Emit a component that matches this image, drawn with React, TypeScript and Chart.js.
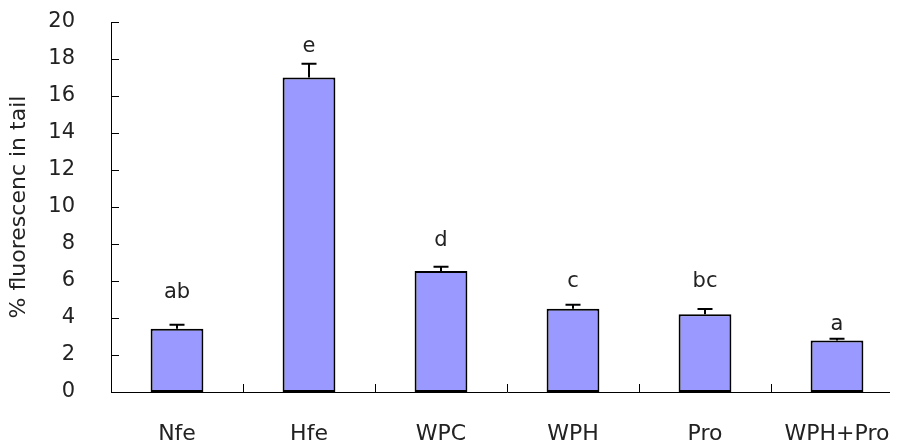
import React, { useEffect, useRef } from "react";
import { Chart, registerables } from "chart.js";

Chart.register(...registerables);

const categories = ["Nfe", "Hfe", "WPC", "WPH", "Pro", "WPH+Pro"];
const means = [3.42, 17.0, 6.54, 4.5, 4.2, 2.79];
const errors = [0.22, 0.74, 0.23, 0.22, 0.29, 0.09];
const letters = ["ab", "e", "d", "c", "bc", "a"];
const letterY = [5.4, 18.7, 8.2, 5.96, 5.96, 3.66];
const yMin = 0;
const yMax = 20;
const yStep = 2;

const FONT = "'DejaVu Sans', sans-serif";
const TEXT = "#222";

const decorPlugin = {
  id: "decor",
  afterDatasetsDraw(chart: any) {
    const ctx = chart.ctx;
    const ys = chart.scales.y;
    const xs = chart.scales.x;
    const meta = chart.getDatasetMeta(0);
    ctx.save();
    ctx.strokeStyle = "#000";
    ctx.lineWidth = 1;
    for (let v = yMin; v <= yMax; v += yStep) {
      const py = Math.round(ys.getPixelForValue(v)) + 0.5;
      ctx.beginPath();
      ctx.moveTo(chart.chartArea.left, py);
      ctx.lineTo(chart.chartArea.left + 8, py);
      ctx.stroke();
    }
    for (let i = 1; i < categories.length; i++) {
      const px = Math.round((xs.getPixelForValue(i - 1) + xs.getPixelForValue(i)) / 2) + 0.5;
      ctx.beginPath();
      ctx.moveTo(px, chart.chartArea.bottom);
      ctx.lineTo(px, chart.chartArea.bottom - 8);
      ctx.stroke();
    }
    ctx.lineWidth = 2;
    meta.data.forEach((el: any, i: number) => {
      const top = ys.getPixelForValue(means[i] + errors[i]);
      ctx.beginPath();
      ctx.moveTo(el.x, el.y);
      ctx.lineTo(el.x, top);
      ctx.moveTo(el.x - 7.5, top);
      ctx.lineTo(el.x + 7.5, top);
      ctx.stroke();
    });
    ctx.fillStyle = TEXT;
    ctx.font = `21px ${FONT}`;
    ctx.textAlign = "center";
    ctx.textBaseline = "middle";
    meta.data.forEach((el: any, i: number) => {
      ctx.fillText(letters[i], el.x, ys.getPixelForValue(letterY[i]));
    });
    ctx.restore();
  },
};

export default function App() {
  const ref = useRef<HTMLCanvasElement>(null);
  useEffect(() => {
    if (!ref.current) return;
    const chart = new Chart(ref.current, {
      type: "bar",
      data: {
        labels: categories,
        datasets: [
          {
            data: means,
            backgroundColor: "#9999FF",
            borderColor: "#000",
            borderWidth: 2,
            borderSkipped: false,
            categoryPercentage: 1,
            barPercentage: 0.4,
          },
        ],
      },
      options: {
        animation: false,
        responsive: false,
        maintainAspectRatio: false,
        layout: { padding: { top: 14, right: 3, left: 0, bottom: 0 } },
        plugins: { legend: { display: false }, tooltip: { enabled: false } },
        scales: {
          x: {
            grid: { display: false, offset: true },
            border: { display: true, color: "#000", width: 1 },
            ticks: {
              color: TEXT,
              font: { family: FONT, size: 22 },
              padding: 21,
              maxRotation: 0,
              autoSkip: false,
            },
            afterFit(s: any) {
              s.height = 56;
              s.paddingLeft = 0;
              s.paddingRight = 0;
            },
          },
          y: {
            min: yMin,
            max: yMax,
            grid: { display: false },
            border: { display: true, color: "#000", width: 1 },
            ticks: {
              stepSize: yStep,
              color: TEXT,
              font: { family: FONT, size: 21 },
              padding: 28,
            },
            title: {
              display: true,
              text: "% fluorescenc in tail",
              color: TEXT,
              font: { family: FONT, size: 22, lineHeight: 1 },
              padding: 0,
            },
            afterFit(s: any) {
              s.width = 103;
              s.paddingTop = 0;
              s.paddingBottom = 0;
            },
          },
        },
      },
      plugins: [decorPlugin],
    });
    return () => chart.destroy();
  }, []);
  return (
    <div style={{ width: 890, height: 440, overflow: "hidden" }}>
      <canvas ref={ref} width={898} height={440} style={{ display: "block" }} />
    </div>
  );
}
